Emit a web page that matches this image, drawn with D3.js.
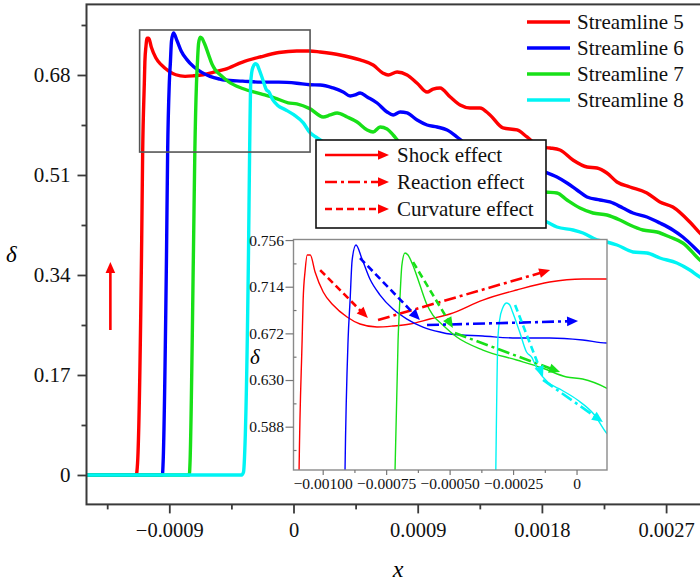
<!DOCTYPE html>
<html><head><meta charset="utf-8">
<script src="https://cdn.jsdelivr.net/npm/d3@7"></script>
<style>body{margin:0;background:#fff}svg{display:block}</style>
</head><body>
<svg id="c" width="700" height="581"></svg>
<script>
// ---------------- DATA ----------------
const seriesNames = ["Streamline 5","Streamline 6","Streamline 7","Streamline 8"];
const seriesColors = ["#ff0000","#0000ff","#18e018","#00f4f4"];
const s5 = [[-0.0015,0],[-0.00114,0],[-0.00113,0.02],[-0.0011,0.40],[-0.001093,0.549],[-0.001081,0.666],[-0.001077,0.702],[-0.001069,0.729],[-0.001061,0.7425],[-0.001049,0.7425],[-0.00103,0.7272],[-0.000998,0.7092],[-0.000959,0.6975],[-0.000904,0.6867],[-0.000853,0.6804],[-0.000786,0.6777],[-0.000723,0.6786],[-0.000656,0.6804],[-0.000578,0.6849],[-0.000499,0.6894],[-0.000369,0.702],[-0.000236,0.711],[-0.000106,0.7182],[0.000024,0.7209],[0.000118,0.7209],[0.000193,0.719],[0.000338,0.714],[0.000483,0.7055],[0.000577,0.697],[0.000649,0.683],[0.000686,0.680],[0.000751,0.685],[0.000823,0.680],[0.000896,0.666],[0.000968,0.651],[0.001011,0.656],[0.001062,0.658],[0.001134,0.643],[0.001207,0.629],[0.001279,0.624],[0.001351,0.624],[0.001424,0.612],[0.001518,0.590],[0.00162,0.5865],[0.001692,0.5746],[0.001786,0.5576],[0.001859,0.5559],[0.001931,0.5525],[0.002025,0.5355],[0.002127,0.5236],[0.002199,0.5219],[0.002271,0.5134],[0.002344,0.4981],[0.002438,0.4896],[0.002561,0.4794],[0.002655,0.4641],[0.002749,0.4556],[0.002872,0.4301],[0.002945,0.4114],[0.003,0.40]];
const s6 = [[-0.0015,0],[-0.00095,0],[-0.000945,0.02],[-0.00092,0.38],[-0.000912,0.549],[-0.0009,0.666],[-0.000892,0.702],[-0.000884,0.738],[-0.000869,0.7515],[-0.000845,0.7389],[-0.000814,0.7209],[-0.000774,0.7065],[-0.000723,0.6939],[-0.000668,0.6849],[-0.000605,0.6777],[-0.000538,0.6732],[-0.000499,0.6714],[-0.000369,0.6696],[-0.000236,0.6678],[-0.000106,0.6678],[0.000024,0.666],[0.000118,0.6633],[0.000193,0.663],[0.000287,0.6579],[0.00036,0.6511],[0.000411,0.6443],[0.000447,0.646],[0.000483,0.6494],[0.000534,0.6426],[0.000606,0.6324],[0.000678,0.6171],[0.000722,0.612],[0.000773,0.6171],[0.000823,0.6154],[0.000896,0.6035],[0.000968,0.595],[0.001041,0.5916],[0.001113,0.5865],[0.001185,0.5746],[0.001229,0.5661],[0.001424,0.544],[0.001642,0.527],[0.001823,0.5151],[0.001909,0.5066],[0.001982,0.4964],[0.002054,0.4845],[0.002127,0.4726],[0.002221,0.4675],[0.002293,0.4641],[0.002387,0.4539],[0.00246,0.4454],[0.002561,0.4386],[0.002655,0.4284],[0.002749,0.4165],[0.002821,0.4046],[0.002945,0.3774],[0.003,0.365]];
const s7 = [[-0.0015,0],[-0.000755,0],[-0.00075,0.02],[-0.000725,0.38],[-0.000715,0.549],[-0.000703,0.666],[-0.000696,0.702],[-0.000688,0.7335],[-0.000676,0.7443],[-0.000664,0.7425],[-0.000645,0.7335],[-0.000617,0.7155],[-0.00059,0.6982],[-0.000566,0.6885],[-0.000527,0.6795],[-0.000472,0.6687],[-0.000369,0.657],[-0.000236,0.648],[-0.000134,0.6408],[-0.000039,0.6327],[0.000024,0.6309],[0.000118,0.6228],[0.000215,0.6086],[0.000266,0.612],[0.000316,0.6154],[0.000389,0.6086],[0.000461,0.6001],[0.000534,0.5865],[0.000577,0.5831],[0.000628,0.5916],[0.000678,0.5882],[0.000722,0.578],[0.000773,0.5644],[0.001062,0.5389],[0.001424,0.5151],[0.001823,0.4811],[0.001909,0.4794],[0.001982,0.4675],[0.002076,0.4539],[0.00217,0.4454],[0.002271,0.442],[0.002365,0.4335],[0.002438,0.425],[0.002532,0.4165],[0.002634,0.4131],[0.002727,0.4046],[0.002821,0.3944],[0.002945,0.3655],[0.003,0.355]];
const s8 = [[-0.0015,0],[-0.000375,0],[-0.000362,0.005],[-0.000355,0.03],[-0.000326,0.38],[-0.000318,0.549],[-0.00031,0.666],[-0.000303,0.684],[-0.000291,0.6948],[-0.000275,0.6993],[-0.000263,0.6975],[-0.000252,0.6912],[-0.000224,0.6732],[-0.000197,0.6552],[-0.000177,0.6507],[-0.000153,0.639],[-0.000114,0.6282],[-0.000059,0.621],[0.000004,0.612],[0.000071,0.5985],[0.000118,0.5823],[0.000172,0.5729],[0.000773,0.5185],[0.001351,0.4675],[0.001837,0.4301],[0.001909,0.4216],[0.002025,0.4165],[0.002098,0.4114],[0.002199,0.3995],[0.002271,0.3961],[0.002344,0.391],[0.00246,0.3791],[0.002561,0.3774],[0.002655,0.3689],[0.002778,0.3604],[0.002872,0.3485],[0.002945,0.3366],[0.003,0.33]];
const seriesData = [s5,s6,s7,s8];

const xTicksMain = [-0.0009,0,0.0009,0.0018,0.0027];
const xLabelsMain = ["\u22120.0009","0","0.0009","0.0018","0.0027"];
const xMinorMain = [-0.00135,-0.00045,0.00045,0.00135,0.00225];
const yTicksMain = [0,0.17,0.34,0.51,0.68];
const yLabelsMain = ["0","0.17","0.34","0.51","0.68"];
const yMinorMain = [0.085,0.255,0.425,0.595,0.765];

const xTicksIn = [-0.001,-0.00075,-0.0005,-0.00025,0];
const xLabelsIn = ["\u22120.00100","\u22120.00075","\u22120.00050","\u22120.00025","0"];
const xMinorIn = [-0.000875,-0.000625,-0.000375,-0.000125];
const yTicksIn = [0.588,0.630,0.672,0.714,0.756];
const yLabelsIn = ["0.588","0.630","0.672","0.714","0.756"];
const yMinorIn = [0.567,0.609,0.651,0.693,0.735];

// zoom window (same as inset domain)
const zoomX = [-0.001115, 0.00012];
const zoomY = [0.549, 0.7565];

// effect arrows in inset: [colorIndex, style, x1, y1, x2, y2]
const effectArrows = [
  [0,"dash",-0.00101,0.729,-0.000822,0.6858],
  [0,"dashdot",-0.000782,0.684,-0.000104,0.729],
  [1,"dash",-0.000853,0.7398,-0.000617,0.684],
  [1,"dashdot",-0.000589,0.6795,0.000006,0.6831],
  [2,"dash",-0.000644,0.7362,-0.000487,0.6768],
  [2,"dashdot",-0.000479,0.6723,-0.000065,0.6372],
  [3,"dash",-0.000242,0.6975,-0.000132,0.6327],
  [3,"dashdot",-0.000132,0.630,0.000104,0.5922]
];
const effectLegend = [["Shock effect","solid"],["Reaction effect","dashdot"],["Curvature effect","dash"]];
const shockArrow = [-0.001327,0.2465,-0.001327,0.362];

// ---------------- DRAW ----------------
const svg = d3.select("#c");
const FONT = "'Liberation Serif','Times New Roman',serif";
const dashes = {solid:null, dash:"7,4", dashdot:"12,4,3,4"};

const x = d3.scaleLinear().domain([-0.0015,0.003]).range([86.5,707.5]);
const y = d3.scaleLinear().domain([-0.05,0.8]).range([504.4,4.4]);

svg.append("rect").attr("width",700).attr("height",581).attr("fill","#fff");
const defs = svg.append("defs");
defs.append("clipPath").attr("id","clipMain").append("rect")
  .attr("x",x.range()[0]).attr("y",y.range()[1])
  .attr("width",x.range()[1]-x.range()[0]).attr("height",y.range()[0]-y.range()[1]);

function arrow(g, x1,y1,x2,y2,color,style,w){
  const dx=x2-x1, dy=y2-y1, L=Math.hypot(dx,dy), ux=dx/L, uy=dy/L;
  const hl=11, hw=4.8;
  g.append("line").attr("x1",x1).attr("y1",y1)
    .attr("x2",x2-ux*hl*0.8).attr("y2",y2-uy*hl*0.8)
    .attr("stroke",color).attr("stroke-width",w)
    .attr("stroke-dasharray",dashes[style]);
  const bx=x2-ux*hl, by=y2-uy*hl;
  g.append("path").attr("d",`M${x2},${y2}L${bx-uy*hw},${by+ux*hw}L${bx+uy*hw},${by-ux*hw}Z`)
    .attr("fill",color);
}

// main curves
const line = d3.line().x(d=>x(d[0])).y(d=>y(d[1])).curve(d3.curveMonotoneX);
const gMain = svg.append("g").attr("clip-path","url(#clipMain)");
seriesData.forEach((s,i)=>{
  gMain.append("path").attr("d",line(s)).attr("fill","none")
    .attr("stroke",seriesColors[i]).attr("stroke-width",3.4).attr("stroke-linejoin","round");
});

// frame
const frameColor="#3a3a3a";
svg.append("rect").attr("x",x.range()[0]).attr("y",y.range()[1])
  .attr("width",x.range()[1]-x.range()[0]).attr("height",y.range()[0]-y.range()[1])
  .attr("fill","none").attr("stroke",frameColor).attr("stroke-width",2);

// main axes
function styleAxis(g,fs){
  g.select(".domain").remove();
  g.selectAll("line").attr("stroke",frameColor).attr("stroke-width",1.8);
  g.selectAll("text").attr("font-family",FONT).attr("font-size",fs).attr("fill","#111");
}
const yAx = svg.append("g").attr("transform",`translate(${x.range()[0]},0)`)
  .call(d3.axisLeft(y).tickValues(yTicksMain).tickFormat((d,i)=>yLabelsMain[i]).tickSize(9).tickPadding(7));
styleAxis(yAx,"21px");
const yAxm = svg.append("g").attr("transform",`translate(${x.range()[0]},0)`)
  .call(d3.axisLeft(y).tickValues(yMinorMain).tickFormat("").tickSize(5));
styleAxis(yAxm,"21px");
const xAx = svg.append("g").attr("transform",`translate(0,${y.range()[0]})`)
  .call(d3.axisBottom(x).tickValues(xTicksMain).tickFormat((d,i)=>xLabelsMain[i]).tickSize(9).tickPadding(9));
styleAxis(xAx,"20.5px");
const xAxm = svg.append("g").attr("transform",`translate(0,${y.range()[0]})`)
  .call(d3.axisBottom(x).tickValues(xMinorMain).tickFormat("").tickSize(5));
styleAxis(xAxm,"20.5px");

svg.append("text").attr("x",398).attr("y",577).attr("text-anchor","middle")
  .attr("font-family",FONT).attr("font-style","italic").attr("font-size","24px").text("x");
svg.append("text").attr("x",6).attr("y",262)
  .attr("font-family",FONT).attr("font-style","italic").attr("font-size","23px").text("\u03b4");

// zoom window rectangle
svg.append("rect").attr("x",x(zoomX[0])).attr("y",y(zoomY[1]))
  .attr("width",x(zoomX[1])-x(zoomX[0])).attr("height",y(zoomY[0])-y(zoomY[1]))
  .attr("fill","none").attr("stroke","#555").attr("stroke-width",1.6);

// left shock arrow
arrow(svg, x(shockArrow[0]),y(shockArrow[1]),x(shockArrow[2]),y(shockArrow[3]),"#ff0000","solid",2.6);

// streamline legend
seriesNames.forEach((n,i)=>{
  const yy = 22 + i*26;
  svg.append("line").attr("x1",527).attr("x2",570).attr("y1",yy).attr("y2",yy)
    .attr("stroke",seriesColors[i]).attr("stroke-width",3.4);
  svg.append("text").attr("x",577).attr("y",yy+7).attr("font-family",FONT)
    .attr("font-size","21px").attr("fill","#111").text(n);
});

// effect legend box
svg.append("rect").attr("x",316).attr("y",140).attr("width",230).attr("height",88)
  .attr("fill","#fff").attr("stroke","#111").attr("stroke-width",1.6);
effectLegend.forEach((e,i)=>{
  const yy = 155 + i*27;
  arrow(svg,325,yy,389,yy,"#ff0000",e[1],2.4);
  svg.append("text").attr("x",397).attr("y",yy+7).attr("font-family",FONT)
    .attr("font-size","21px").attr("fill","#111").text(e[0]);
});

// ---------------- INSET ----------------
const xi = d3.scaleLinear().domain(zoomX).range([293.5,607]);
const yi = d3.scaleLinear().domain(zoomY).range([470,239.5]);
defs.append("clipPath").attr("id","clipIn").append("rect")
  .attr("x",293.5).attr("y",239.5).attr("width",607-293.5).attr("height",470-239.5);
svg.append("rect").attr("x",293.5).attr("y",239.5).attr("width",607-293.5).attr("height",470-239.5)
  .attr("fill","#fff");
const lineIn = d3.line().x(d=>xi(d[0])).y(d=>yi(d[1])).curve(d3.curveMonotoneX);
const gIn = svg.append("g").attr("clip-path","url(#clipIn)");
seriesData.forEach((s,i)=>{
  gIn.append("path").attr("d",lineIn(s)).attr("fill","none")
    .attr("stroke",seriesColors[i]).attr("stroke-width",1.4);
});
effectArrows.forEach(a=>{
  arrow(gIn, xi(a[2]),yi(a[3]),xi(a[4]),yi(a[5]), seriesColors[a[0]], a[1], 2.6);
});
svg.append("rect").attr("x",293.5).attr("y",239.5).attr("width",607-293.5).attr("height",470-239.5)
  .attr("fill","none").attr("stroke","#8a8a8a").attr("stroke-width",1.4);

function styleIn(g){
  g.select(".domain").remove();
  g.selectAll("line").attr("stroke","#777").attr("stroke-width",1.2);
  g.selectAll("text").attr("font-family",FONT).attr("font-size","15.5px").attr("fill","#111");
}
const yiAx = svg.append("g").attr("transform","translate(293.5,0)")
  .call(d3.axisLeft(yi).tickValues(yTicksIn).tickFormat((d,i)=>yLabelsIn[i]).tickSize(8).tickPadding(1.5));
styleIn(yiAx);
const yiAxm = svg.append("g").attr("transform","translate(293.5,0)")
  .call(d3.axisRight(yi).tickValues(yMinorIn).tickFormat("").tickSize(3));
styleIn(yiAxm);
const xiAx = svg.append("g").attr("transform","translate(0,470)")
  .call(d3.axisBottom(xi).tickValues(xTicksIn).tickFormat((d,i)=>xLabelsIn[i]).tickSize(5).tickPadding(3));
styleIn(xiAx);
const xiAxm = svg.append("g").attr("transform","translate(0,470)")
  .call(d3.axisBottom(xi).tickValues(xMinorIn).tickFormat("").tickSize(3));
styleIn(xiAxm);
svg.append("text").attr("x",250).attr("y",364)
  .attr("font-family",FONT).attr("font-style","italic").attr("font-size","21px").text("\u03b4");
</script>
</body></html>
